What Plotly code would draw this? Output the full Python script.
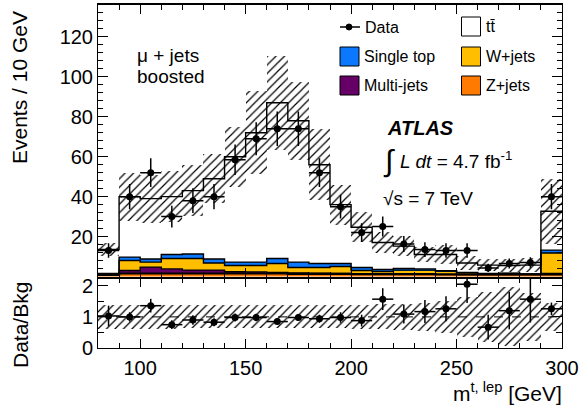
import plotly.graph_objects as go

# ---------------- data ----------------
edges = list(range(80, 301, 10))
centers = [e + 5 for e in edges[:-1]]
half_width = [5] * len(centers)

data = [13, 40, 52, 30, 38, 40, 58.5, 69, 74, 74, 52, 35, 22, 25, 16.3, 13.5, 13, 13, 4.3, 6.5, 7, 40]
data_err = [3.6, 6.3, 7.2, 5.5, 6.2, 6.3, 7.6, 8.3, 8.6, 8.6, 7.2, 5.9, 4.7, 5.0, 4.0, 3.7, 3.6, 3.6, 2.1, 2.5, 2.6, 6.3]

zjets = [0.8, 1.5, 1.5, 1.5, 1.5, 1.5, 1.5, 1.5, 1.5, 1.3, 1.3, 1.3, 1.2, 1.2, 1.2, 1.2, 1.0, 1.0, 1.0, 1.0, 1.0, 1.0]
multijet = [0.2, 1.5, 3.2, 2.3, 1.7, 1.7, 0.9, 0.8, 0.5, 0.5, 0.3, 0.2, 0.2, 0.1, 0.1, 0.1, 0.1, 0.0, 0.0, 0.0, 0.0, 0.5]
wjets = [0.3, 5.0, 2.5, 5.2, 5.8, 3.6, 3.1, 3.2, 4.5, 2.7, 2.9, 3.5, 1.6, 1.2, 1.9, 1.9, 1.6, 0.8, 0.3, 0.5, 0.2, 10.3]
singletop = [0.2, 1.7, 1.6, 2.0, 2.3, 2.0, 1.7, 1.7, 2.5, 2.7, 2.0, 1.5, 1.5, 1.0, 0.8, 0.6, 0.2, 0.2, 0.2, 0.1, 0.1, 1.4]
ttbar = [12, 30.3, 30.2, 29, 31.7, 40.2, 52.8, 64.8, 78, 70.8, 49.5, 29.5, 20.2, 13.5, 11.2, 7.2, 8.1, 4.8, 4.2, 3.9, 4.4, 19.5]
mc_unc_rel = [0.25, 0.30, 0.31, 0.32, 0.30, 0.25, 0.25, 0.29, 0.27, 0.25, 0.32, 0.28, 0.30, 0.32, 0.33, 0.36, 0.45, 0.5, 0.55, 0.6, 0.6, 0.5]

ratio = [1.03, 1.0, 1.36, 0.75, 0.9, 0.83, 0.98, 0.98, 0.85, 0.98, 0.94, 0.98, 0.88, 1.57, 1.09, 1.17, 1.26, 2.05, 0.67, 1.2, 1.57, 1.26]
ratio_err = [0.33, 0.15, 0.22, 0.14, 0.15, 0.13, 0.13, 0.12, 0.1, 0.11, 0.13, 0.17, 0.19, 0.35, 0.3, 0.37, 0.4, 0.6, 0.4, 0.6, 0.75, 0.2]
ratio_unc = [0.38, 0.38, 0.38, 0.38, 0.37, 0.37, 0.37, 0.37, 0.37, 0.37, 0.37, 0.37, 0.38, 0.40, 0.42, 0.45, 0.52, 0.65, 0.80, 0.95, 0.78, 0.45]

ytick_top = [20, 40, 60, 80, 100, 120]
ytick_bot = [0, 1, 2]
xtick = [100, 150, 200, 250, 300]

# ---------------- style ----------------
W, H = 581, 406
ML, MR, MT, MB = 98, 19, 5, 58
PW, PH = W - ML - MR, H - MT - MB
FONT = "Liberation Sans, Arial, Helvetica, sans-serif"
COL = {"zjets": "#FF7A00", "multijet": "#660066", "wjets": "#FFBF00",
       "singletop": "#0A78FF", "ttbar": "#FFFFFF"}


def px(x):
    return (x - ML) / PW


def py(y):
    return (H - MB - y) / PH


components = [("Z+jets", zjets, "zjets"), ("Multi-jets", multijet, "multijet"),
              ("W+jets", wjets, "wjets"), ("Single top", singletop, "singletop"),
              ("tt", ttbar, "ttbar")]

fig = go.Figure()

# stacked filled histograms
base = [0.0] * len(centers)
tops = []
for name, vals, key in components:
    fig.add_trace(go.Bar(x=centers, y=vals, base=list(base), width=10,
                         marker=dict(color=COL[key], line=dict(width=0)),
                         xaxis="x", yaxis="y", showlegend=False, hoverinfo="skip"))
    base = [b + v for b, v in zip(base, vals)]
    tops.append(list(base))

# outlines of each stacked histogram (step lines)
for i, cum in enumerate(tops):
    fig.add_trace(go.Scatter(x=edges[:-1] + [edges[-1]], y=cum + [cum[-1]],
                             mode="lines",
                             line=dict(color="black", width=2.2 if i == 0 else 1.4, shape="hv"),
                             xaxis="x", yaxis="y", showlegend=False, hoverinfo="skip"))

total = tops[-1]

HATCH = dict(shape="/", size=6, solidity=0.2, fillmode="replace")

# hatched uncertainty band (top)
fig.add_trace(go.Bar(x=centers, y=[2 * r * t for r, t in zip(mc_unc_rel, total)],
                     base=[t * (1 - r) for r, t in zip(mc_unc_rel, total)], width=10,
                     marker=dict(color="black", line=dict(width=0), pattern=HATCH),
                     xaxis="x", yaxis="y", showlegend=False, hoverinfo="skip"))

# data points
fig.add_trace(go.Scatter(x=centers, y=data, mode="markers",
                         marker=dict(color="black", size=7),
                         error_y=dict(type="data", array=data_err, color="black", thickness=1.5, width=0),
                         error_x=dict(type="data", array=half_width, color="black", thickness=1.5, width=0),
                         xaxis="x", yaxis="y", showlegend=False, hoverinfo="skip"))

# ratio band
fig.add_trace(go.Bar(x=centers, y=[2 * r for r in ratio_unc], base=[1 - r for r in ratio_unc], width=10,
                     marker=dict(color="black", line=dict(width=0), pattern=HATCH),
                     xaxis="x2", yaxis="y2", showlegend=False, hoverinfo="skip"))

fig.add_trace(go.Scatter(x=centers, y=ratio, mode="markers",
                         marker=dict(color="black", size=7),
                         error_y=dict(type="data", array=ratio_err, color="black", thickness=1.5, width=0),
                         error_x=dict(type="data", array=half_width, color="black", thickness=1.5, width=0),
                         xaxis="x2", yaxis="y2", showlegend=False, hoverinfo="skip"))

axis_common = dict(showline=True, linecolor="black", mirror="allticks", automargin=False,
                   ticks="inside", tickcolor="black", showgrid=False, zeroline=False,
                   tickfont=dict(family=FONT, size=20, color="black"))

top_dom = [py(276.5), 1]
bot_dom = [0, py(278)]

fig.update_layout(
    template="none",
    width=W, height=H, margin=dict(l=ML, r=MR, t=MT, b=MB, autoexpand=False),
    paper_bgcolor="white", plot_bgcolor="white", barmode="overlay", bargap=0,
    font=dict(family=FONT, color="black"),
    xaxis=dict(domain=[0, 1], anchor="y", range=[80, 300], tickvals=xtick, showticklabels=False,
               ticklen=9, linewidth=2,
               minor=dict(dtick=10, tick0=80, ticklen=5, ticks="inside", tickcolor="black"),
               **axis_common),
    yaxis=dict(domain=top_dom, anchor="x", range=[0, 136], tickvals=ytick_top, ticklen=10, linewidth=1,
               minor=dict(dtick=4, tick0=0, ticklen=5, ticks="inside", tickcolor="black"),
               **axis_common),
    xaxis2=dict(domain=[0, 1], anchor="y2", range=[80, 300], tickvals=xtick, ticklen=9, linewidth=1,
                ticklabelstandoff=2,
                minor=dict(dtick=10, tick0=80, ticklen=5, ticks="inside", tickcolor="black"),
                **axis_common),
    yaxis2=dict(domain=bot_dom, anchor="x2", range=[0, 2.25], tickvals=ytick_bot, ticklen=10, linewidth=1,
                minor=dict(dtick=0.5, tick0=0, ticklen=6, ticks="inside", tickcolor="black"),
                **axis_common),
)

# dashed line at ratio 1
fig.add_shape(type="line", xref="x2 domain", x0=0, x1=1, yref="y2", y0=1, y1=1,
              line=dict(color="black", width=1, dash="dash"))

ann = []


def text(x, y, s, size=20, xanchor="left", angle=0, **kw):
    ann.append(dict(xref="paper", yref="paper", x=px(x), y=py(y), text=s, showarrow=False,
                    xanchor=xanchor, yanchor="middle", textangle=angle,
                    font=dict(family=FONT, size=size, color="black"), **kw))


# axis titles
text(20, 88, "Events / 10 GeV", size=21, xanchor="center", angle=-90)
text(20, 325, "Data/Bkg", size=21, xanchor="center", angle=-90)
text(564, 392, "m<sup>t, lep</sup> [GeV]", size=21, xanchor="right")

# channel label
text(135, 55, "μ + jets", size=19)
text(135, 76, "boosted", size=19)

# ATLAS label
text(385, 128, "<b><i>ATLAS</i></b>", size=20)
text(381, 161, "∫", size=30)
text(398, 160, "<i>L dt</i> = 4.7 fb<sup>-1</sup>", size=19)
text(381, 198, "√s = 7 TeV", size=19)

# legend
LF = 16
fig.add_shape(type="line", xref="paper", yref="paper", x0=px(340), x1=px(360), y0=py(27), y1=py(27),
              line=dict(color="black", width=1.5))
fig.add_shape(type="circle", xref="paper", yref="paper", x0=px(346), x1=px(352), y0=py(30), y1=py(24),
              fillcolor="black", line=dict(color="black", width=1))
text(363, 27, "Data", size=LF)

legend_boxes = [(461.5, 17, "ttbar", "tt\u0304"), (340, 47, "singletop", "Single top"),
                (461.5, 47, "wjets", "W+jets"), (340, 76, "multijet", "Multi-jets"),
                (461.5, 76, "zjets", "Z+jets")]
for bx, by, key, label in legend_boxes:
    fig.add_shape(type="rect", xref="paper", yref="paper", x0=px(bx), x1=px(bx + 19),
                  y0=py(by + 19), y1=py(by), fillcolor=COL[key], line=dict(color="black", width=1))
    text(bx + 22, by + 9.5, label, size=LF)

fig.update_layout(annotations=ann)

fig.write_html("out.html", config={"displayModeBar": False},
               post_script="document.body.style.margin='0';document.body.style.overflow='hidden';")
